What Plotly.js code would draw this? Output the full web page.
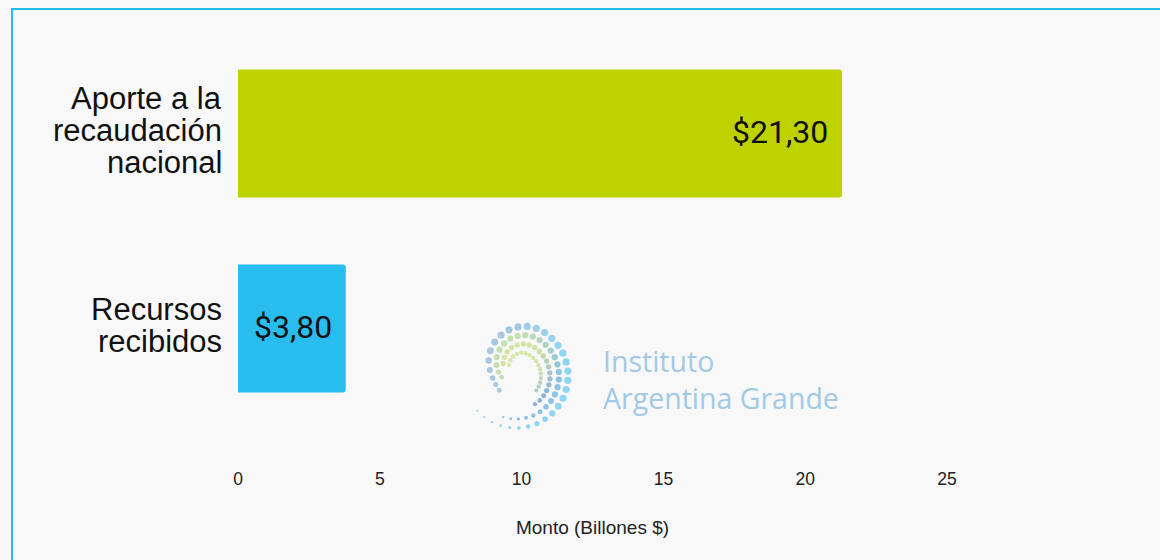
<!DOCTYPE html>
<html>
<head>
<meta charset="utf-8">
<script src="https://cdn.plot.ly/plotly-3.0.1.min.js"></script>
<style>
  html, body { margin:0; padding:0; background:#f8f8f8; width:1160px; height:560px; overflow:hidden; }
  #frame { position:absolute; left:11px; top:8px; width:1200px; height:600px;
           border-left:2px solid #22bdf0; border-top:2px solid #22bdf0; }
  #chart { position:absolute; left:0; top:0; width:1160px; height:560px; }
</style>
</head>
<body>
<div id="frame"></div>
<div id="chart"></div>
<script>
// ---- data ----
const categories = ['Aporte a la recaudación nacional', 'Recursos recibidos'];
const labelLines = [['Aporte a la', 'recaudación', 'nacional'], ['Recursos', 'recibidos']];
const values = [21.30, 3.80];
const valueLabels = ['$21,30', '$3,80'];
const barColors = ['#bed200', '#29bdee'];
const xTickVals = [0, 5, 10, 15, 20, 25];
const xTitle = 'Monto (Billones $)';
const logoLines = ['Instituto', 'Argentina Grande'];

// ---- layout geometry ----
const W = 1160, H = 560;
const M = {l: 238, r: 213, t: 36, b: 134};
const plotW = W - M.l - M.r, plotH = H - M.t - M.b;
const px2paperX = px => (px - M.l) / plotW;
const px2paperY = py => (H - M.b - py) / plotH;

// ---- trace ----
const trace = {
  type: 'bar',
  orientation: 'h',
  y: categories,
  x: values,
  marker: {color: barColors, line: {width: 0}, cornerradius: 3},
  hoverinfo: 'none',
  showlegend: false
};

// ---- annotations: category labels (one per line), value labels ----
const annotations = [];
const lineGap = 32;
categories.forEach((c, i) => {
  const lines = labelLines[i];
  lines.forEach((ln, j) => {
    annotations.push({
      x: 0, xref: 'paper', xanchor: 'right', xshift: -14,
      y: c, yref: 'y', yanchor: 'middle',
      yshift: -((j - (lines.length - 1) / 2) * lineGap) + 3,
      text: ln, showarrow: false,
      font: {family: 'Liberation Sans, Arial, sans-serif', size: 31, color: '#111'}
    });
  });
  annotations.push({
    x: values[i], xref: 'x', xanchor: 'right', xshift: -12,
    y: c, yref: 'y', yanchor: 'middle', yshift: 2,
    text: valueLabels[i], showarrow: false,
    font: {family: 'Roboto, sans-serif', size: 32, color: '#111'}
  });
});
// logo text
annotations.push({
  x: px2paperX(601), xref: 'paper', xanchor: 'left',
  y: px2paperY(379), yref: 'paper', yanchor: 'middle',
  text: logoLines.join('<br>'), align: 'left', showarrow: false,
  font: {family: 'Open Sans, Noto Sans, sans-serif', size: 28.5, color: '#a2c9e6'}
});

// ---- logo dots (decorative) as inline svg image ----
function lerp(a, b, t) { return a + (b - a) * t; }
function hex(s) { return [1,3,5].map(k => parseInt(s.substr(k,2),16)); }
function mix(c1, c2, t) {
  const a = hex(c1), b = hex(c2);
  return 'rgb(' + a.map((v, k) => Math.round(lerp(v, b[k], t))).join(',') + ')';
}
function smooth(e0, e1, x) { const u = Math.min(1, Math.max(0, (x - e0) / (e1 - e0))); return u * u * (3 - 2 * u); }
function rowsAt(t) {
  if (t < 0.06) return 1;
  if (t < 0.2) return 2;
  if (t < 0.28) return 3;
  if (t < 0.74) return 4;
  if (t < 0.8) return 3;
  if (t < 0.9) return 2;
  return 1;
}
let dots = '';
const cx = 42, cy = 56;
const blues = ['#90d6f3', '#8cc3e6', '#8db3da', '#a7c6d4'];
const greens = ['#a9c7e0', '#c6dfb2', '#d4e4a2', '#d9e7a8'];
const sweep = 360 * Math.PI / 180;
for (let t = 0; t <= 1.0001; ) {
  const theta = (138 - 360 * t) * Math.PI / 180;
  const Rout = 52 - 30 * smooth(0.55, 0.95, t);
  const nRows = rowsAt(t);
  const big = smooth(0.0, 0.35, t) * (1 - 0.45 * smooth(0.7, 1.0, t));
  for (let k = 0; k < nRows; k++) {
    const r = Rout - k * 9;
    if (r < 8) continue;
    const x = cx + r * Math.cos(theta), y = cy + r * Math.sin(theta);
    const size = Math.max(0.8, (1.0 + 2.6 * big) * (1 - k * 0.13));
    const g = smooth(0.42, 0.72, t + 0.07 * k);
    const col = mix(blues[k], greens[k], g);
    dots += `<circle cx="${x.toFixed(1)}" cy="${y.toFixed(1)}" r="${size.toFixed(2)}" fill="${col}"/>`;
  }
  t += 9.3 / Math.max(Rout, 30) / sweep;
}
const svg = `<svg xmlns="http://www.w3.org/2000/svg" width="100" height="115" viewBox="0 0 100 115">${dots}</svg>`;
const logoSrc = 'data:image/svg+xml;base64,' + btoa(svg);

const layout = {
  width: W, height: H,
  margin: M,
  paper_bgcolor: 'rgba(0,0,0,0)',
  plot_bgcolor: 'rgba(0,0,0,0)',
  bargap: 0.344,
  font: {family: 'Liberation Sans, Arial, sans-serif', color: '#222'},
  xaxis: {
    range: [0, 25],
    tickvals: xTickVals,
    ticktext: xTickVals.map(String),
    showgrid: false, zeroline: false, showline: false, ticks: '',
    ticklabelstandoff: 40,
    tickfont: {family: 'Liberation Sans, Arial, sans-serif', size: 17.5, color: '#222'},
    title: {text: xTitle, standoff: 33, font: {family: 'Liberation Sans, Arial, sans-serif', size: 19, color: '#222'}},
    fixedrange: true
  },
  yaxis: {
    type: 'category',
    categoryorder: 'array', categoryarray: categories,
    autorange: 'reversed',
    showticklabels: false, showgrid: false, zeroline: false, showline: false, ticks: '',
    fixedrange: true
  },
  annotations: annotations,
  images: [{
    source: logoSrc, xref: 'paper', yref: 'paper',
    x: px2paperX(474), y: px2paperY(320), sizex: 100 / plotW, sizey: 115 / plotH,
    xanchor: 'left', yanchor: 'top', sizing: 'stretch', layer: 'above'
  }]
};

Plotly.newPlot('chart', [trace], layout, {displayModeBar: false, staticPlot: true});
</script>
</body>
</html>
